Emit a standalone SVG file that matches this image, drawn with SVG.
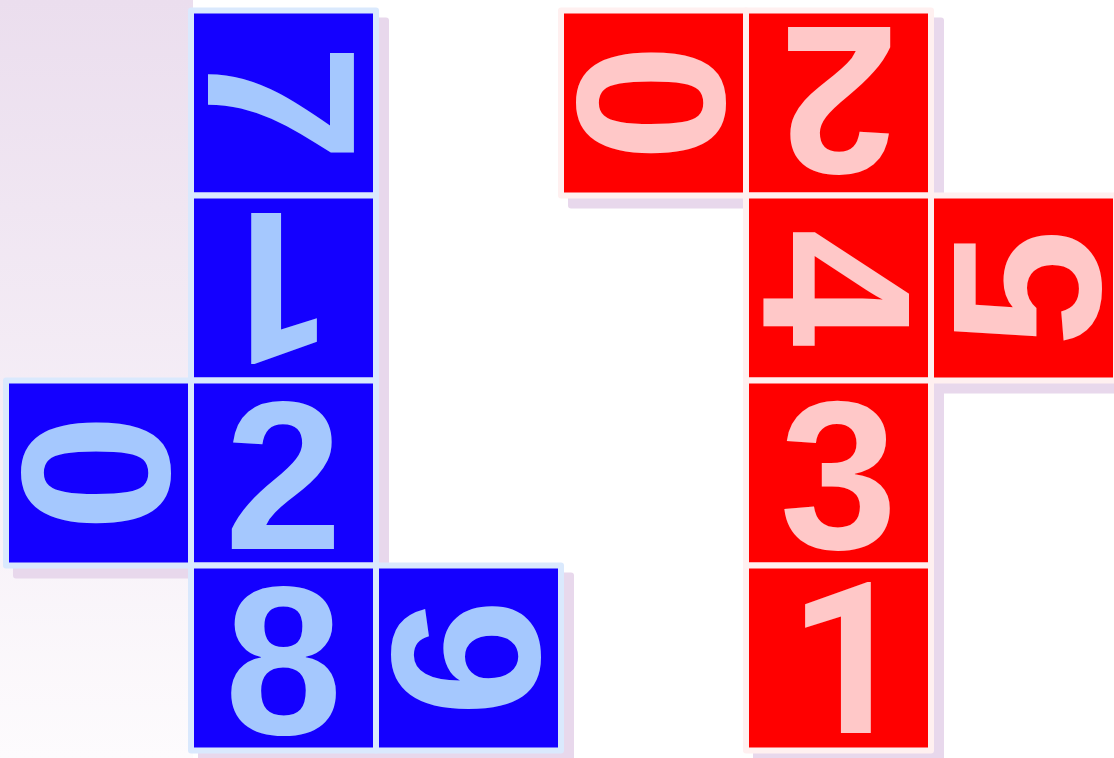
<svg xmlns="http://www.w3.org/2000/svg" width="1114" height="758" viewBox="0 0 1114 758">
<defs>
<linearGradient id="bg" x1="0" y1="0" x2="0" y2="1">
<stop offset="0" stop-color="#ebdeee"/>
<stop offset="1" stop-color="#fdfbfd"/>
</linearGradient>
<style>
.sh{fill:#e8d8ec}
.b rect{fill:#1400ff;stroke:#dae9fd;stroke-width:6;stroke-linejoin:round}
.r rect{fill:#ff0000;stroke:#fff0f0;stroke-width:6;stroke-linejoin:round}
.b text{fill:#a5c8fe}
.r text{fill:#ffc8c8}
.one{font-family:Roboto,"Liberation Sans",sans-serif}
</style>
</defs>
<rect x="0" y="0" width="193" height="758" fill="url(#bg)"/>
<g id="shadows">
<rect class="sh" x="198" y="17.5" width="191" height="191" rx="3"/>
<rect class="sh" x="198" y="202.5" width="191" height="191" rx="3"/>
<rect class="sh" x="13" y="387.5" width="191" height="191" rx="3"/>
<rect class="sh" x="198" y="387.5" width="191" height="191" rx="3"/>
<rect class="sh" x="198" y="572.5" width="191" height="191" rx="3"/>
<rect class="sh" x="383" y="572.5" width="191" height="191" rx="3"/>
<rect class="sh" x="568" y="17.5" width="191" height="191" rx="3"/>
<rect class="sh" x="753" y="17.5" width="191" height="191" rx="3"/>
<rect class="sh" x="753" y="202.5" width="191" height="191" rx="3"/>
<rect class="sh" x="938" y="202.5" width="191" height="191" rx="3"/>
<rect class="sh" x="753" y="387.5" width="191" height="191" rx="3"/>
<rect class="sh" x="753" y="572.5" width="191" height="191" rx="3"/>
</g>
<g font-family="'Liberation Sans', Arial, Helvetica, sans-serif" font-weight="700" font-size="212" text-anchor="middle">
<g id="blue-7" class="b"><rect x="191" y="10.5" width="185" height="185"/><text transform="translate(283.5,103) rotate(90)" y="76">7</text></g>
<g id="blue-1" class="b"><rect x="191" y="195.5" width="185" height="185"/><text class="one" transform="translate(283.5,288) rotate(180)" x="10" y="75">1</text></g>
<g id="blue-0" class="b"><rect x="6" y="380.5" width="185" height="185"/><text transform="translate(98.5,473) rotate(90)" y="76">0</text></g>
<g id="blue-2" class="b"><rect x="191" y="380.5" width="185" height="185"/><text transform="translate(283.5,473)" y="76">2</text></g>
<g id="blue-8" class="b"><rect x="191" y="565.5" width="185" height="185"/><text transform="translate(283.5,658)" y="76">8</text></g>
<g id="blue-9" class="b"><rect x="376" y="565.5" width="185" height="185"/><text transform="translate(468.5,658) rotate(90)" y="76">9</text></g>
<g id="red-0" class="r"><rect x="561" y="10.5" width="185" height="185"/><text transform="translate(653.5,103) rotate(90)" y="76">0</text></g>
<g id="red-2" class="r"><rect x="746" y="10.5" width="185" height="185"/><text transform="translate(838.5,103) rotate(180)" y="76">2</text></g>
<g id="red-4" class="r"><rect x="746" y="195.5" width="185" height="185"/><text transform="translate(838.5,288) rotate(90)" y="76">4</text></g>
<g id="red-5" class="r"><rect x="931" y="195.5" width="185" height="185"/><text transform="translate(1023.5,288) rotate(-90)" y="76">5</text></g>
<g id="red-3" class="r"><rect x="746" y="380.5" width="185" height="185"/><text transform="translate(838.5,473)" y="76">3</text></g>
<g id="red-1" class="r"><rect x="746" y="565.5" width="185" height="185"/><text class="one" transform="translate(838.5,658)" x="10" y="75">1</text></g>
</g>
<g id="connectors"/>
</svg>
